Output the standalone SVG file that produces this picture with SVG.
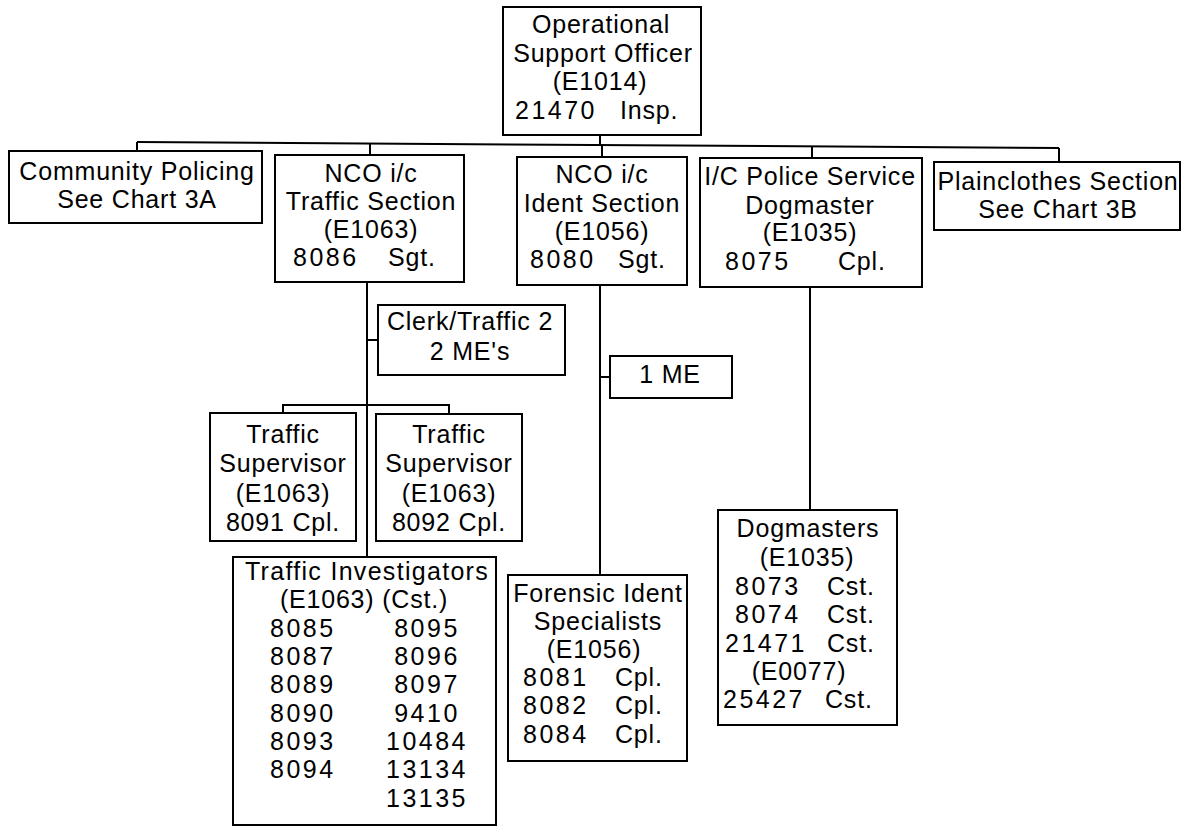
<svg xmlns="http://www.w3.org/2000/svg" width="1191" height="827" viewBox="0 0 1191 827">
<style>
.box{fill:#fff;stroke:#000;stroke-width:2}
.ln{fill:none;stroke:#000;stroke-width:2}
text{font-family:"Liberation Sans",Arial,sans-serif;font-size:25px;fill:#000;letter-spacing:0.8px}
.c{text-anchor:middle}
.n{letter-spacing:2.5px}
.nc{text-anchor:middle;letter-spacing:2.5px}
</style>
<rect width="1191" height="827" fill="#fff"/>
<g id="connectors">
<line class="ln" x1="600" y1="135" x2="600" y2="145"/>
<line class="ln" x1="137" y1="142" x2="1059" y2="148"/>
<line class="ln" x1="137" y1="142" x2="137" y2="151"/>
<line class="ln" x1="370" y1="143.5" x2="370" y2="155"/>
<line class="ln" x1="602" y1="145" x2="602" y2="157"/>
<line class="ln" x1="812" y1="146.5" x2="812" y2="158"/>
<line class="ln" x1="1059" y1="148" x2="1059" y2="162"/>
<line class="ln" x1="367" y1="282" x2="367" y2="557"/>
<line class="ln" x1="367" y1="340" x2="378" y2="340"/>
<polyline class="ln" points="283,413 283,405 449,405 449,414"/>
<line class="ln" x1="600" y1="285" x2="600" y2="575"/>
<line class="ln" x1="600" y1="377" x2="610" y2="377"/>
<line class="ln" x1="810" y1="287" x2="810" y2="510"/>
</g>
<g id="ops">
<rect class="box" x="503" y="7" width="198" height="128"/>
<text class="c" x="601" y="33">Operational</text>
<text class="c" x="603" y="62">Support Officer</text>
<text class="c" x="600" y="90">(E1014)</text>
<text class="n" x="515" y="119">21470</text>
<text x="620" y="119">Insp.</text>
</g>
<g id="community">
<rect class="box" x="9" y="151" width="253" height="72"/>
<text class="c" x="137" y="180">Community Policing</text>
<text class="c" x="137" y="208">See Chart 3A</text>
</g>
<g id="traffic">
<rect class="box" x="275" y="155" width="189" height="127"/>
<text class="c" x="371" y="182">NCO i/c</text>
<text class="c" x="371" y="210">Traffic Section</text>
<text class="c" x="371" y="238">(E1063)</text>
<text class="n" x="293" y="266">8086</text>
<text x="388" y="266">Sgt.</text>
</g>
<g id="ident">
<rect class="box" x="517" y="157" width="170" height="128"/>
<text class="c" x="602" y="183">NCO i/c</text>
<text class="c" x="602" y="212">Ident Section</text>
<text class="c" x="602" y="240">(E1056)</text>
<text class="n" x="530" y="268">8080</text>
<text x="618" y="268">Sgt.</text>
</g>
<g id="dogmaster">
<rect class="box" x="700" y="158" width="222" height="129"/>
<text class="c" x="810" y="185">I/C Police Service</text>
<text class="c" x="810" y="214">Dogmaster</text>
<text class="c" x="810" y="241">(E1035)</text>
<text class="n" x="725" y="270">8075</text>
<text x="838" y="270">Cpl.</text>
</g>
<g id="plainclothes">
<rect class="box" x="934" y="162" width="246" height="68"/>
<text class="c" x="1058" y="190">Plainclothes Section</text>
<text class="c" x="1058" y="218">See Chart 3B</text>
</g>
<g id="clerk">
<rect class="box" x="378" y="305" width="187" height="70"/>
<text class="c" x="470" y="330">Clerk/Traffic 2</text>
<text class="c" x="470" y="360">2 ME's</text>
</g>
<g id="me1">
<rect class="box" x="610" y="356" width="122" height="42"/>
<text class="c" x="670" y="383">1 ME</text>
</g>
<g id="sup1">
<rect class="box" x="210" y="413" width="146" height="128"/>
<text class="c" x="283" y="443">Traffic</text>
<text class="c" x="283" y="472">Supervisor</text>
<text class="c" x="283" y="502">(E1063)</text>
<text class="c" x="283" y="531">8091 Cpl.</text>
</g>
<g id="sup2">
<rect class="box" x="376" y="414" width="146" height="127"/>
<text class="c" x="449" y="443">Traffic</text>
<text class="c" x="449" y="472">Supervisor</text>
<text class="c" x="449" y="502">(E1063)</text>
<text class="c" x="449" y="531">8092 Cpl.</text>
</g>
<g id="investigators">
<rect class="box" x="233" y="557" width="263" height="268"/>
<text class="c" x="367" y="580" style="letter-spacing:1.3px">Traffic Investigators</text>
<text class="c" x="364" y="608">(E1063) (Cst.)</text>
<text class="n" x="270" y="637">8085</text>
<text class="n" x="270" y="665">8087</text>
<text class="n" x="270" y="693">8089</text>
<text class="n" x="270" y="722">8090</text>
<text class="n" x="270" y="750">8093</text>
<text class="n" x="270" y="778">8094</text>
<text class="nc" x="427" y="637">8095</text>
<text class="nc" x="427" y="665">8096</text>
<text class="nc" x="427" y="693">8097</text>
<text class="nc" x="427" y="722">9410</text>
<text class="nc" x="427" y="750">10484</text>
<text class="nc" x="427" y="778">13134</text>
<text class="nc" x="427" y="807">13135</text>
</g>
<g id="forensic">
<rect class="box" x="508" y="575" width="179" height="186"/>
<text class="c" x="598" y="602">Forensic Ident</text>
<text class="c" x="598" y="630">Specialists</text>
<text class="c" x="594" y="658">(E1056)</text>
<text class="n" x="523" y="686">8081</text>
<text x="615" y="686">Cpl.</text>
<text class="n" x="523" y="714">8082</text>
<text x="615" y="714">Cpl.</text>
<text class="n" x="523" y="743">8084</text>
<text x="615" y="743">Cpl.</text>
</g>
<g id="dogmasters">
<rect class="box" x="718" y="510" width="179" height="215"/>
<text class="c" x="808" y="537">Dogmasters</text>
<text class="c" x="807" y="566">(E1035)</text>
<text class="n" x="735" y="595">8073</text>
<text x="827" y="595">Cst.</text>
<text class="n" x="735" y="623">8074</text>
<text x="827" y="623">Cst.</text>
<text class="n" x="725" y="652">21471</text>
<text x="827" y="652">Cst.</text>
<text class="c" x="799" y="680">(E0077)</text>
<text class="n" x="723" y="708">25427</text>
<text x="825" y="708">Cst.</text>
</g>
</svg>
